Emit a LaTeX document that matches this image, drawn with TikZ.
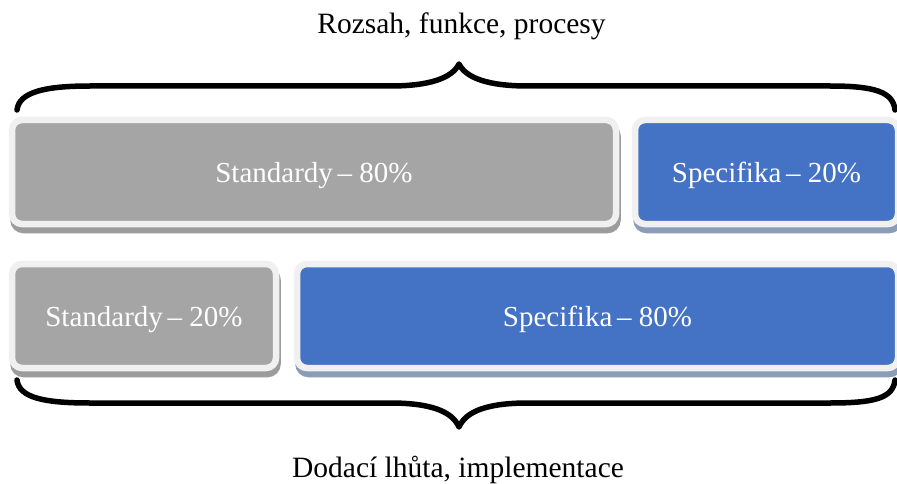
\documentclass[tikz,border=0pt]{standalone}
\usepackage{fontspec}
\setmainfont{Liberation Serif}
\usetikzlibrary{shadows}
\definecolor{boxgray}{HTML}{A5A5A5}
\definecolor{boxblue}{HTML}{4472C4}
\definecolor{rim}{HTML}{F0F0F0}
\definecolor{graysh}{HTML}{9C9C9C}
\definecolor{bluesh}{HTML}{8B9CB9}
\begin{document}
\begin{tikzpicture}[x=1pt,y=-1pt,
  tile/.style={rounded corners=10pt, draw=rim, line width=6.5pt, text=white,
    font=\fontsize{29}{34}\selectfont, inner sep=0pt, minimum height=104pt,
    text height=21pt, text depth=0pt},
  graytile/.style={tile, fill=boxgray,
    drop shadow={shadow xshift=1.5pt, shadow yshift=-6pt, fill=graysh, draw=graysh, opacity=1}},
  bluetile/.style={tile, fill=boxblue,
    drop shadow={shadow xshift=1.5pt, shadow yshift=-6pt, fill=bluesh, draw=bluesh, opacity=1}},
  caption/.style={font=\fontsize{29.5}{34}\selectfont, text=black, inner sep=0pt, anchor=base},
  brace/.style={line width=5.5pt, line cap=round, line join=round}]
  \useasboundingbox (0,0) rectangle (897,484);

  % captions
  \node[caption] (top) at (461.5,34) {Rozsah, funkce, procesy};
  \node[caption] (bottom) at (458,477) {Dodací lhůta, implementace};

  % upper row
  \node[graytile, minimum width=604pt] (std80) at (314,172) {Standardy\,– 80\%};
  \node[bluetile, minimum width=263pt] (spec20) at (766.5,172) {Specifika\,– 20\%};

  % lower row
  \node[graytile, minimum width=264pt] (std20) at (144,316) {Standardy\,– 20\%};
  \node[bluetile, minimum width=601pt] (spec80) at (597.5,316) {Specifika\,– 80\%};

  % upper brace
  \draw[brace] (17,110) .. controls (19,92) and (45,86) .. (90,86) -- (390,86)
    .. controls (430,86) and (452,78) .. (459,64)
    .. controls (466,78) and (488,86) .. (528,86) -- (830,86)
    .. controls (875,86) and (893,92) .. (895,110);

  % lower brace
  \draw[brace] (17,380) .. controls (19,398) and (45,403) .. (90,403) -- (390,403)
    .. controls (430,403) and (452,411) .. (459,427)
    .. controls (466,411) and (488,403) .. (528,403) -- (830,403)
    .. controls (875,403) and (893,398) .. (895,380);
\end{tikzpicture}
\end{document}
